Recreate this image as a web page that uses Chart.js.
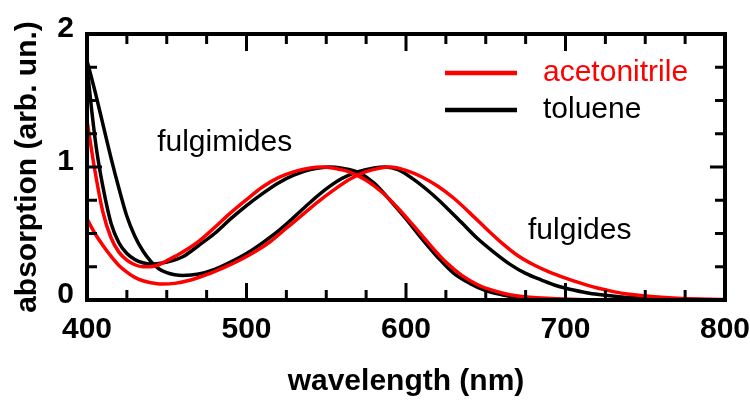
<!DOCTYPE html>
<html>
<head>
<meta charset="utf-8">
<script src="https://cdn.jsdelivr.net/npm/chart.js@4/dist/chart.umd.min.js"></script>
<style>
  html, body { margin: 0; padding: 0; background: #fff; }
  canvas { display: block; }
</style>
</head>
<body>
<canvas id="absChart" width="750" height="401"></canvas>
<script>
const solvents = ['acetonitrile', 'toluene'];
const solventColors = ['#ff0000', '#000000'];

// fulgimides in acetonitrile
const fulgimideMeCNnm = [400, 405, 410, 415, 420, 425, 430, 435, 440, 445, 450, 460, 470, 480, 490, 500, 510, 520, 530, 540, 547, 555, 565, 575, 585, 595, 605, 615, 625, 635, 645, 655, 665, 680, 700, 730, 800];
const fulgimideMeCN = [1.35, 0.97, 0.66, 0.47, 0.36, 0.30, 0.265, 0.25, 0.25, 0.265, 0.295, 0.36, 0.44, 0.545, 0.655, 0.755, 0.85, 0.92, 0.965, 0.993, 1.0, 0.99, 0.96, 0.9, 0.81, 0.69, 0.555, 0.415, 0.285, 0.185, 0.115, 0.07, 0.04, 0.018, 0.006, 0.001, 0];

// fulgides in acetonitrile
const fulgideMeCNnm = [400, 405, 410, 415, 420, 425, 430, 435, 440, 447, 455, 465, 475, 485, 495, 505, 515, 525, 535, 545, 555, 565, 575, 590, 600, 610, 620, 630, 640, 650, 660, 670, 680, 690, 700, 710, 720, 730, 740, 750, 770, 790, 800];
const fulgideMeCN = [0.61, 0.50, 0.41, 0.33, 0.26, 0.21, 0.17, 0.145, 0.13, 0.12, 0.125, 0.15, 0.19, 0.24, 0.295, 0.36, 0.44, 0.54, 0.64, 0.74, 0.83, 0.91, 0.965, 1.0, 0.975, 0.925, 0.855, 0.765, 0.655, 0.54, 0.43, 0.335, 0.265, 0.21, 0.165, 0.125, 0.09, 0.063, 0.043, 0.03, 0.013, 0.005, 0.003];

// fulgimides in toluene
const fulgimideTolnm = [400, 403, 406, 410, 415, 420, 425, 430, 435, 440, 445, 450, 460, 470, 480, 490, 500, 510, 520, 530, 540, 552, 560, 570, 580, 590, 600, 610, 620, 630, 640, 650, 660, 670, 690, 720, 800];
const fulgimideTol = [1.76, 1.42, 1.13, 0.85, 0.58, 0.43, 0.35, 0.305, 0.28, 0.27, 0.275, 0.285, 0.325, 0.41, 0.5, 0.61, 0.71, 0.8, 0.88, 0.94, 0.98, 1.0, 0.99, 0.96, 0.88, 0.75, 0.61, 0.46, 0.32, 0.2, 0.125, 0.07, 0.04, 0.022, 0.008, 0.002, 0];

// fulgides in toluene
const fulgideTolnm = [400, 405, 410, 415, 420, 425, 430, 435, 440, 445, 450, 455, 460, 470, 480, 490, 500, 510, 520, 530, 540, 550, 560, 570, 580, 587, 595, 605, 615, 625, 635, 645, 655, 665, 675, 685, 695, 705, 715, 725, 740, 760, 780, 800];
const fulgideTol = [1.80, 1.57, 1.32, 1.07, 0.84, 0.63, 0.48, 0.37, 0.29, 0.235, 0.205, 0.19, 0.185, 0.195, 0.23, 0.285, 0.35, 0.43, 0.52, 0.625, 0.735, 0.835, 0.915, 0.965, 0.993, 1.0, 0.98, 0.905, 0.81, 0.70, 0.58, 0.46, 0.36, 0.27, 0.20, 0.15, 0.105, 0.075, 0.05, 0.035, 0.018, 0.008, 0.003, 0.001];

const xLabels = [400, 500, 600, 700, 800];
const yLabels = [0, 1, 2];

const FONT = "Arial, 'Liberation Sans', Helvetica, sans-serif";

function toPoints(nm, vals) {
    return nm.map((x, i) => ({ x: x, y: vals[i] }));
}

function series(label, nm, vals, color) {
    return {
        label: label,
        data: toPoints(nm, vals),
        borderColor: color,
        backgroundColor: color,
        borderWidth: 3.5,
        pointRadius: 0,
        fill: false,
        cubicInterpolationMode: 'monotone'
    };
}

// box around the plot with inward ticks on all four sides
const framePlugin = {
    id: 'frame',
    afterDraw(chart) {
        const { ctx, chartArea: a, scales: { x, y } } = chart;
        ctx.save();
        ctx.strokeStyle = '#000';
        ctx.lineWidth = 3;
        x.ticks.forEach(t => {
            if (t.value <= x.min || t.value >= x.max) return;
            const px = x.getPixelForValue(t.value);
            const len = xLabels.includes(t.value) ? 17 : 10;
            ctx.beginPath();
            ctx.moveTo(px, a.bottom); ctx.lineTo(px, a.bottom - len);
            ctx.moveTo(px, a.top); ctx.lineTo(px, a.top + len);
            ctx.stroke();
        });
        y.ticks.forEach(t => {
            if (t.value <= y.min || t.value >= y.max) return;
            const py = y.getPixelForValue(t.value);
            const len = yLabels.includes(t.value) ? 15 : 10;
            ctx.beginPath();
            ctx.moveTo(a.left, py); ctx.lineTo(a.left + len, py);
            ctx.moveTo(a.right, py); ctx.lineTo(a.right - len, py);
            ctx.stroke();
        });
        ctx.lineWidth = 4;
        ctx.strokeRect(a.left, a.top, a.right - a.left, a.bottom - a.top);
        ctx.restore();
    }
};

// solvent key and the two compound labels
const notesPlugin = {
    id: 'notes',
    afterDraw(chart) {
        const { ctx, scales: { x, y } } = chart;
        ctx.save();
        ctx.font = '30px ' + FONT;
        ctx.textBaseline = 'middle';
        ctx.textAlign = 'left';
        solvents.forEach((name, i) => {
            const ly = 73 + i * 37;
            ctx.strokeStyle = solventColors[i];
            ctx.lineWidth = 4.5;
            ctx.beginPath();
            ctx.moveTo(445, ly); ctx.lineTo(517, ly);
            ctx.stroke();
            ctx.fillStyle = solventColors[i];
            ctx.fillText(name, 543, ly);
        });
        ctx.fillStyle = '#000';
        ctx.fillText('fulgimides', x.getPixelForValue(444), y.getPixelForValue(1.18));
        ctx.fillText('fulgides', x.getPixelForValue(676.5), y.getPixelForValue(0.52));
        ctx.restore();
    }
};

new Chart(document.getElementById('absChart'), {
    type: 'line',
    data: {
        datasets: [
            series('fulgimides, ' + solvents[0], fulgimideMeCNnm, fulgimideMeCN, solventColors[0]),
            series('fulgides, ' + solvents[0], fulgideMeCNnm, fulgideMeCN, solventColors[0]),
            series('fulgimides, ' + solvents[1], fulgimideTolnm, fulgimideTol, solventColors[1]),
            series('fulgides, ' + solvents[1], fulgideTolnm, fulgideTol, solventColors[1])
        ]
    },
    options: {
        responsive: false,
        animation: false,
        layout: { padding: { left: 0, right: 25, top: 34, bottom: 0 } },
        plugins: { legend: { display: false }, tooltip: { enabled: false } },
        scales: {
            x: {
                type: 'linear', min: 400, max: 800,
                grid: { display: false, drawTicks: false },
                border: { display: false },
                afterFit(scale) {
                    scale.height = 101;
                    scale.paddingLeft = 0;
                    scale.paddingRight = 0;
                },
                ticks: {
                    stepSize: 25, autoSkip: false, maxRotation: 0, padding: 12,
                    color: '#000', font: { family: FONT, size: 30, weight: 'bold' },
                    callback: v => xLabels.includes(v) ? String(v) : ''
                },
                title: {
                    display: true, text: 'wavelength (nm)', color: '#000',
                    font: { family: FONT, size: 30, weight: 'bold' },
                    padding: { top: 0, bottom: 1 }
                }
            },
            y: {
                min: 0, max: 2,
                grid: { display: false, drawTicks: false },
                border: { display: false },
                afterFit(scale) {
                    scale.width = 87;
                    scale.paddingTop = 0;
                    scale.paddingBottom = 0;
                },
                ticks: {
                    stepSize: 0.25, autoSkip: false, padding: 13, labelOffset: -5,
                    color: '#000', font: { family: FONT, size: 30, weight: 'bold' },
                    callback: v => yLabels.includes(v) ? String(v) : ''
                },
                title: {
                    display: true, text: 'absorption (arb. un.)', color: '#000',
                    font: { family: FONT, size: 30, weight: 'bold' },
                    padding: { top: 10, bottom: 0 }
                }
            }
        }
    },
    plugins: [framePlugin, notesPlugin]
});
</script>
</body>
</html>
